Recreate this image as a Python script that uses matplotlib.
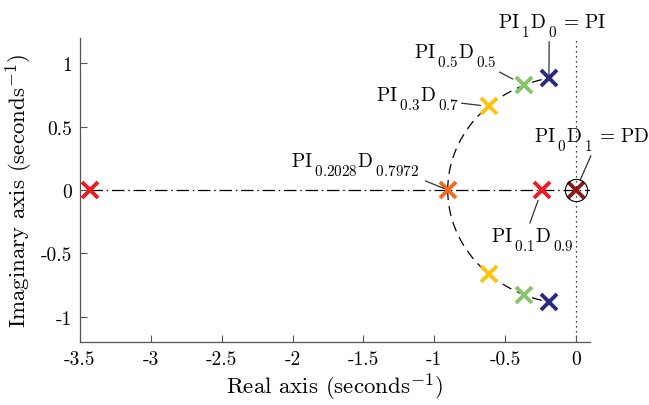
import numpy as np
import matplotlib
matplotlib.use("Agg")
import matplotlib.pyplot as plt
import matplotlib._mathtext as _mt

plt.rcParams['mathtext.fontset'] = 'cm'
plt.rcParams['font.family'] = 'serif'
plt.rcParams['font.serif'] = ['cmr10', 'DejaVu Serif']
plt.rcParams['axes.unicode_minus'] = False
plt.rcParams['axes.formatter.use_mathtext'] = True
# TeX-interpreter look: lower, slightly larger subscripts
try:
    _mt.ComputerModernFontConstants.sub1 = 0.55
    _mt.ComputerModernFontConstants.sub2 = 0.6
    _mt.SHRINK_FACTOR = 0.78
except Exception:
    pass

# Pole data (real, imag) for each controller mix
labels = [r'$\mathrm{PI}_{\,1}\mathrm{D}_{\,0}\,=\,\mathrm{PI}$',
          r'$\mathrm{PI}_{\,0.5}\mathrm{D}_{\,0.5}$',
          r'$\mathrm{PI}_{\,0.3}\mathrm{D}_{\,0.7}$',
          r'$\mathrm{PI}_{\,0.2028}\mathrm{D}_{\,0.7972}$',
          r'$\mathrm{PI}_{\,0.1}\mathrm{D}_{\,0.9}$',
          r'$\mathrm{PI}_{\,0}\mathrm{D}_{\,1}\,=\,\mathrm{PD}$']
colors = ['#2b2b80', '#88c46c', '#ffc20e', '#f26b21', '#ed1c24', '#8b1a1a']
pole_re = [-0.19, -0.367, -0.614, -0.903, -0.24, 0.0]
pole_im = [0.885, 0.83, 0.66, 0.0, 0.0, 0.0]
far_pole_re = -3.43       # far pole of PI0.1D0.9
zero_re, zero_im = 0.0, 0.0

xticks = [-3.5, -3, -2.5, -2, -1.5, -1, -0.5, 0]
xticklabels = ['-3.5', '-3', '-2.5', '-2', '-1.5', '-1', '-0.5', '0']
yticks = [-1, -0.5, 0, 0.5, 1]
yticklabels = ['-1', '-0.5', '0', '0.5', '1']

fig = plt.figure(figsize=(6.49, 4.06), dpi=100)
ax = fig.add_axes([80/649, 63/406, 510/649, 304/406])
ax.set_xlim(-3.5, 0.1)
ax.set_ylim(-1.2, 1.2)

# dotted imaginary axis
ax.axvline(0, color='black', lw=0.9, ls=(0, (1, 3)), zorder=1)
# real-axis branch of locus (dash-dot)
ax.plot([far_pole_re, ax.get_xlim()[1]], [0, 0], color='black', lw=0.9,
        ls=(0, (10, 3, 1.2, 3)), zorder=1)

# circular branch of the locus through the complex poles
cre = np.array(pole_re[:4]); cim = np.array(pole_im[:4])
r = np.mean(np.hypot(cre, cim))
a_end = np.arctan2(pole_im[0], pole_re[0])
th = np.linspace(np.pi, a_end, 200)
ax.plot(r*np.cos(th), r*np.sin(th), color='black', lw=0.9, ls=(0, (8, 5)), zorder=1)
ax.plot(r*np.cos(th), -r*np.sin(th), color='black', lw=0.9, ls=(0, (8, 5)), zorder=1)

# poles
for re_, im_, c in zip(pole_re, pole_im, colors):
    ax.plot([re_], [im_], 'x', color=c, ms=11, mew=2.8, zorder=3)
    if im_ != 0:
        ax.plot([re_], [-im_], 'x', color=c, ms=11, mew=2.8, zorder=3)
ax.plot([far_pole_re], [0], 'x', color=colors[4], ms=11, mew=2.8, zorder=3)
# zero
ax.plot([zero_re], [zero_im], 'o', mfc='none', mec='black', ms=16, mew=0.8, zorder=4)

# annotations
text_pos = [(-0.165, 1.30), (-0.85, 1.06), (-1.12, 0.72), (-1.56, 0.20),
            (-0.31, -0.39), (0.115, 0.40)]
relpos = [(0.47, 0.0), (0.97, 0.0), (1.0, 0.35), (1.05, -0.1), (0.475, 1.1), (0.5, 0.0)]
shrink = [2, 9, 6, 3, 8, 8]
for lab, (px, py), xr, yr, rp, sh in zip(labels, text_pos, pole_re, pole_im, relpos, shrink):
    ax.annotate(lab, xy=(xr, yr), xytext=(px, py), textcoords='data',
                ha='center', va='center', fontsize=14, annotation_clip=False,
                arrowprops=dict(arrowstyle='-', color='#333333', lw=0.9,
                                relpos=rp, shrinkA=0, shrinkB=sh))

ax.set_xticks(xticks)
ax.set_xticklabels(xticklabels)
ax.set_yticks(yticks)
ax.set_yticklabels(yticklabels)
ax.tick_params(direction='in', length=5, width=0.8, color='#555555', labelsize=14, pad=6)
for s in ['top', 'right']:
    ax.spines[s].set_visible(False)
for s in ['left', 'bottom']:
    ax.spines[s].set_color('#555555')
    ax.spines[s].set_linewidth(0.9)

ax.set_xlabel(r'Real axis (seconds$^{-1}$)', fontsize=16.5, labelpad=2)
ax.set_ylabel(r'Imaginary axis (seconds$^{-1}$)', fontsize=16.5, labelpad=4)

fig.savefig('out.png', dpi=100)
